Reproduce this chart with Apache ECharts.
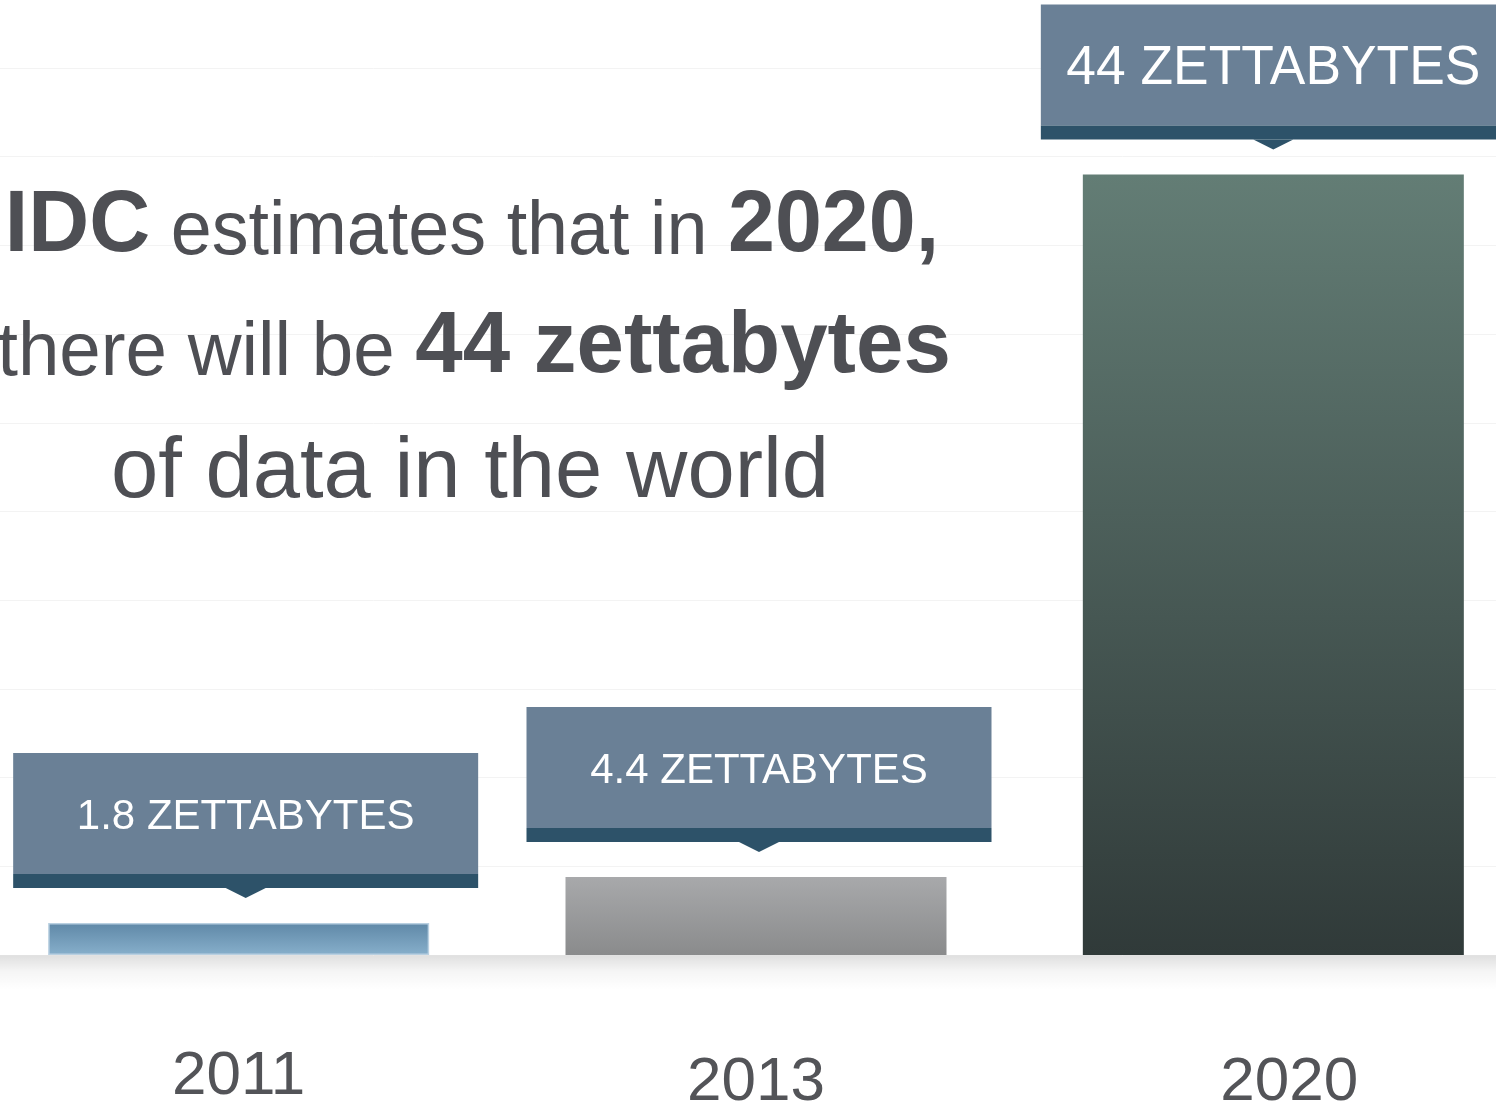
<!DOCTYPE html>
<html>
<head>
<meta charset="utf-8">
<script src="https://cdn.jsdelivr.net/npm/echarts@6/dist/echarts.min.js"></script>
<style>
  html, body { margin: 0; padding: 0; background: #ffffff; }
  #chart { width: 1496px; height: 1107px; }
</style>
</head>
<body>
<div id="chart"></div>
<script>
// ---- data ----
const years = ['2011', '2013', '2020'];
const values = [1.8, 4.4, 44];
const calloutLabels = ['1.8 ZETTABYTES', '4.4 ZETTABYTES', '44 ZETTABYTES'];
const yTicks = { min: 0, max: 50, interval: 5 };

// ---- styles ----
const FONT = '"Liberation Sans", Arial, Helvetica, sans-serif';
const TEXT_DARK = '#4e4f54';
const barGradients = [
  ['#5f88a7', '#87afcb'],
  ['#a8a9ab', '#8a8b8c'],
  ['#637d75', '#303a39']
];
const barBorders = ['#b9d0e1', 'rgba(0,0,0,0)', 'rgba(0,0,0,0)'];
const calloutShift = [7, 3, 0];
const W = 1496, H = 1107;
const GRID = { left: -20, right: -36, top: 68, bottom: 152 };

const chart = echarts.init(document.getElementById('chart'), null, { renderer: 'canvas' });

function grad(c) {
  return new echarts.graphic.LinearGradient(0, 0, 0, 1, [
    { offset: 0, color: c[0] }, { offset: 1, color: c[1] }
  ]);
}

const maxVal = Math.max.apply(null, values);

const option = {
  backgroundColor: '#ffffff',
  animation: false,
  grid: { left: GRID.left, right: GRID.right, top: GRID.top, bottom: GRID.bottom, containLabel: false, outerBoundsMode: 'none' },
  xAxis: {
    type: 'category',
    data: years,
    axisTick: { show: false },
    axisLine: { show: true, lineStyle: { color: '#e2e2e2', width: 1 } },
    axisLabel: {
      margin: 128,
      verticalAlign: 'middle',
      formatter: function (v) {
        if (v === '2011') return '{a|' + v + '}';
        if (v === '2020') return '{c|' + v + '}';
        return '{b|' + v + '}';
      },
      rich: {
        a: { fontSize: 62, fontFamily: FONT, color: '#535458', padding: [0, 0, 12, 0] },
        b: { fontSize: 62, fontFamily: FONT, color: '#535458' },
        c: { fontSize: 62, fontFamily: FONT, color: '#535458', padding: [0, 0, 0, 32] }
      }
    }
  },
  yAxis: {
    type: 'value',
    min: yTicks.min, max: yTicks.max, interval: yTicks.interval,
    axisLabel: { show: false },
    axisLine: { show: false },
    axisTick: { show: false },
    splitLine: { show: true, lineStyle: { color: '#f3f3f3', width: 1 } }
  },
  graphic: [
    {
      type: 'rect', z: 0, silent: true,
      shape: { x: 0, y: H - GRID.bottom + 1, width: W, height: 34 },
      style: {
        fill: new echarts.graphic.LinearGradient(0, 0, 0, 1, [
          { offset: 0, color: 'rgba(0,0,0,0.12)' },
          { offset: 0.45, color: 'rgba(0,0,0,0.04)' },
          { offset: 1, color: 'rgba(0,0,0,0)' }
        ])
      }
    },
    {
      type: 'text', z: 10, x: 472, y: 271, scaleX: 0.97,
      style: {
        text: '{b|IDC}{r| estimates that in }{b|2020,}',
        align: 'center', verticalAlign: 'bottom',
        rich: {
          b: { fontSize: 87, fontWeight: 'bold', fontFamily: FONT, fill: TEXT_DARK, verticalAlign: 'bottom' },
          r: { fontSize: 76, fontFamily: FONT, fill: TEXT_DARK, verticalAlign: 'bottom' }
        }
      }
    },
    {
      type: 'text', z: 10, x: 474, y: 392, scaleX: 0.98,
      style: {
        text: '{r|there will be }{b|44 zettabytes}',
        align: 'center', verticalAlign: 'bottom',
        rich: {
          b: { fontSize: 87, fontWeight: 'bold', fontFamily: FONT, fill: TEXT_DARK, verticalAlign: 'bottom' },
          r: { fontSize: 76, fontFamily: FONT, fill: TEXT_DARK, verticalAlign: 'bottom' }
        }
      }
    },
    {
      type: 'text', z: 10, x: 470, y: 516,
      style: {
        text: '{r|of data in the world}',
        align: 'center', verticalAlign: 'bottom',
        rich: {
          r: { fontSize: 85, fontFamily: FONT, fill: TEXT_DARK, verticalAlign: 'bottom' }
        }
      }
    }
  ],
  series: [
    {
      type: 'bar',
      barWidth: 381,
      z: 2,
      data: values.map(function (v, i) {
        return {
          value: v,
          itemStyle: { color: grad(barGradients[i]), borderColor: barBorders[i], borderWidth: i === 0 ? 1.5 : 0 }
        };
      })
    },
    {
      type: 'custom',
      z: 5,
      clip: false,
      data: values.map(function (v, i) { return [i, v]; }),
      renderItem: function (params, api) {
        const i = api.value(0), v = api.value(1);
        const p = api.coord([i, v]);
        const cx = p[0] + calloutShift[i], top = p[1];
        const boxW = 465, mainH = 121, stripH = 14, triH = 10, triW = 40, gap = 25;
        const tipY = top - gap;
        const stripBottom = tipY - triH;
        const stripTop = stripBottom - stripH;
        const boxTop = stripTop - mainH;
        const big = v === maxVal;
        return {
          type: 'group',
          children: [
            { type: 'rect', shape: { x: cx - boxW / 2, y: boxTop, width: boxW, height: mainH }, style: { fill: '#6a8096' } },
            { type: 'rect', shape: { x: cx - boxW / 2, y: stripTop, width: boxW, height: stripH }, style: { fill: '#2d5269' } },
            { type: 'polygon', shape: { points: [[cx - triW / 2, stripBottom], [cx + triW / 2, stripBottom], [cx, tipY]] }, style: { fill: '#2d5269' } },
            {
              type: 'text', x: cx, y: boxTop + mainH / 2 + 4,
              scaleX: big ? 0.97 : 1.0,
              style: {
                text: calloutLabels[i], fill: '#ffffff',
                fontSize: big ? 55 : 42, fontFamily: FONT,
                align: 'center', verticalAlign: 'middle'
              }
            }
          ]
        };
      }
    }
  ]
};

chart.setOption(option);
</script>
</body>
</html>
